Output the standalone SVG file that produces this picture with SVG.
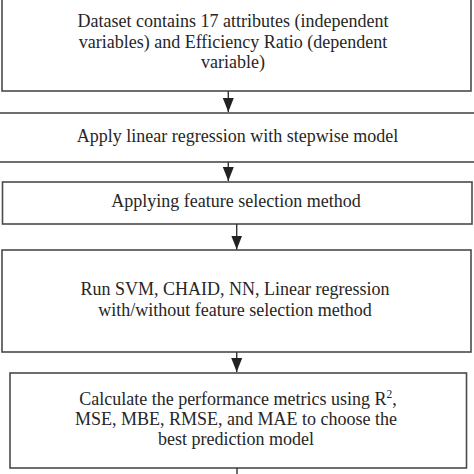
<svg xmlns="http://www.w3.org/2000/svg" width="474" height="474" viewBox="0 0 474 474">
<defs>
<style>
.box{fill:#ffffff;stroke:#4a4a4a;stroke-width:1.6}
.t{font-family:"Liberation Serif","Times New Roman",serif;font-size:18px;fill:#262626;text-anchor:middle}
.c{stroke:#333;stroke-width:1.4;fill:none}
</style>
<marker id="ah" markerWidth="14" markerHeight="11" refX="14" refY="5.5" orient="auto" markerUnits="userSpaceOnUse" viewBox="0 0 14 11">
<path d="M0,0 L14,5.5 L0,11 Z" fill="#222"/>
</marker>
</defs>
<rect width="474" height="474" fill="#ffffff"/>
<g id="n1"><rect class="box" x="2" y="-5" width="469" height="96"/>
<text class="t" x="233" y="27">Dataset contains 17 attributes (independent</text>
<text class="t" x="233" y="48">variables) and Efficiency Ratio (dependent</text>
<text class="t" x="233" y="68">variable)</text></g>
<g id="n2"><rect class="box" x="-2" y="113" width="480" height="49"/>
<text class="t" x="237.5" y="142">Apply linear regression with stepwise model</text></g>
<g id="n3"><rect class="box" x="2.5" y="182" width="469.5" height="42"/>
<text class="t" x="236" y="207">Applying feature selection method</text></g>
<g id="n4"><rect class="box" x="2" y="250" width="469" height="102"/>
<text class="t" x="235" y="295">Run SVM, CHAID, NN, Linear regression</text>
<text class="t" x="235" y="316">with/without feature selection method</text></g>
<g id="n5"><rect class="box" x="10" y="373" width="456.5" height="95"/>
<text class="t" x="238" y="405">Calculate the performance metrics using R<tspan font-size="11.5" dy="-7">2</tspan><tspan dy="7">,</tspan></text>
<text class="t" x="236" y="425">MSE, MBE, RMSE, and MAE to choose the</text>
<text class="t" x="236" y="445">best prediction model</text></g>
<g id="connectors">
<line class="c" x1="228.3" y1="91" x2="228.3" y2="112" marker-end="url(#ah)"/>
<line class="c" x1="228.3" y1="162" x2="228.3" y2="181" marker-end="url(#ah)"/>
<line class="c" x1="236.7" y1="224" x2="236.7" y2="249.5" marker-end="url(#ah)"/>
<line class="c" x1="236.7" y1="352" x2="236.7" y2="372" marker-end="url(#ah)"/>
<line class="c" x1="237" y1="468" x2="237" y2="476"/>
</g>
</svg>
